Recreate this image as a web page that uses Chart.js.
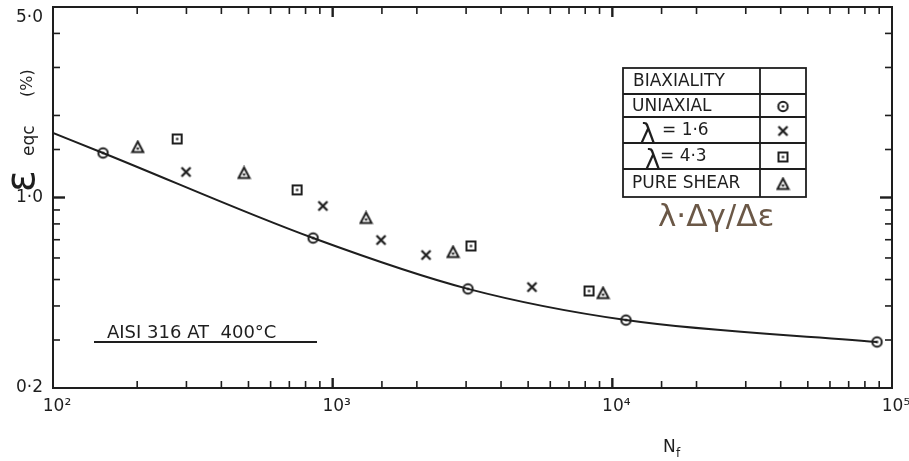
<!DOCTYPE html>
<html>
<head>
<meta charset="utf-8">
<script src="https://cdn.jsdelivr.net/npm/chart.js@4.4.0/dist/chart.umd.min.js"></script>
<style>
  html, body { margin: 0; padding: 0; background: #fff; }
  #wrap { width: 909px; height: 461px; }
</style>
</head>
<body>
<div id="wrap"><canvas id="myChart" width="909" height="461"></canvas></div>
<script>
// fitted uniaxial curve (N_f, strain in %)
const curveN = [100, 151, 851, 3047, 11190, 88400];
const curveE = [1.725, 1.457, 0.710, 0.462, 0.355, 0.295];

// test points per biaxiality
const uniaxialN = [151, 851, 3047, 11190, 88400];
const uniaxialE = [1.457, 0.710, 0.462, 0.355, 0.295];

const lam16N = [299, 923, 1489, 2157, 5160];
const lam16E = [1.241, 0.931, 0.698, 0.615, 0.469];

const lam43N = [278, 746, 3123, 8253];
const lam43E = [1.640, 1.066, 0.664, 0.454];

const shearN = [201, 482, 1316, 2694, 9262];
const shearE = [1.532, 1.230, 0.841, 0.631, 0.446];

const xTickLabels = { 100: '10²', 1000: '10³', 10000: '10⁴', 100000: '10⁵' };
const yTickLabels = [[0.2, '0·2'], [1, '1·0'], [5, '5·0']];

const tableHead = 'BIAXIALITY';
const tableRows = [['UNIAXIAL', 'circle'], ['λ|= 1·6', 'cross'], ['λ|= 4·3', 'square'], ['PURE SHEAR', 'triangle']];

const INK = '#1e1e1e';
const FONT = 'DejaVu Sans';
Chart.defaults.font.family = FONT;
Chart.defaults.color = INK;

// marker glyphs: hollow shapes with a centre dot, like the plotted symbols
function makeSymbol(kind) {
  const c = document.createElement('canvas');
  c.width = 15; c.height = 15;
  const g = c.getContext('2d');
  g.strokeStyle = INK; g.fillStyle = INK; g.lineWidth = 2;
  const m = 7.5;
  if (kind === 'circle') { g.beginPath(); g.arc(m, m, 4.7, 0, Math.PI * 2); g.stroke(); }
  if (kind === 'square') g.strokeRect(3, 3, 9, 9);
  if (kind === 'triangle') {
    g.beginPath(); g.moveTo(m, 2); g.lineTo(13, 12.5); g.lineTo(2, 12.5); g.closePath(); g.stroke();
  }
  if (kind === 'cross') {
    g.lineWidth = 2.3;
    g.beginPath(); g.moveTo(3, 3); g.lineTo(12, 12); g.moveTo(12, 3); g.lineTo(3, 12); g.stroke();
  } else {
    g.beginPath(); g.arc(m, kind === 'triangle' ? 9 : m, 1.3, 0, Math.PI * 2); g.fill();
  }
  return c;
}
const sym = {
  circle: makeSymbol('circle'), cross: makeSymbol('cross'),
  square: makeSymbol('square'), triangle: makeSymbol('triangle')
};

const pts = (xs, ys) => xs.map((x, i) => ({ x: x, y: ys[i] }));
const marks = (data, style) => ({ data: data, pointStyle: style, pointRadius: 6, showLine: false });

const isPow10 = v => Math.abs(Math.log10(v) - Math.round(Math.log10(v))) < 1e-6;
const near = (a, b) => Math.abs(a - b) < 1e-6 * Math.max(1, b);

const decor = {
  id: 'decor',
  afterDraw(chart) {
    const { ctx, chartArea: a, scales: { x, y } } = chart;
    ctx.save();
    ctx.strokeStyle = INK;
    ctx.fillStyle = INK;

    const seg = (x1, y1, x2, y2) => { ctx.beginPath(); ctx.moveTo(x1, y1); ctx.lineTo(x2, y2); ctx.stroke(); };

    // frame
    ctx.lineWidth = 2;
    ctx.strokeRect(a.left, a.top, a.right - a.left, a.bottom - a.top);

    // inward ticks on all four sides
    x.ticks.forEach(t => {
      if (near(t.value, x.min) || near(t.value, x.max)) return;
      const px = x.getPixelForValue(t.value);
      const major = isPow10(t.value);
      const len = major ? 10 : 7;
      ctx.lineWidth = major ? 2.4 : 1.6;
      seg(px, a.bottom, px, a.bottom - len);
      seg(px, a.top, px, a.top + len);
    });
    y.ticks.forEach(t => {
      if (near(t.value, y.min) || near(t.value, y.max)) return;
      const py = y.getPixelForValue(t.value);
      const major = isPow10(t.value);
      const len = major ? 12 : 7;
      ctx.lineWidth = major ? 2.4 : 1.6;
      seg(a.left, py, a.left + len, py);
      seg(a.right, py, a.right - len, py);
    });

    // y axis title, rotated
    ctx.save();
    ctx.translate(34, 192);
    ctx.rotate(-Math.PI / 2);
    ctx.textAlign = 'left';
    ctx.textBaseline = 'alphabetic';
    ctx.font = '40px ' + FONT;
    ctx.fillText('ε', 0, 0);
    ctx.font = '17px ' + FONT;
    ctx.fillText('eqc', 36, 0);
    ctx.font = '16px ' + FONT;
    ctx.fillText('(%)', 95, -2);
    ctx.restore();

    // x axis title N_f
    ctx.textAlign = 'left';
    ctx.textBaseline = 'alphabetic';
    ctx.font = '17px ' + FONT;
    ctx.fillText('N', 663, 452);
    ctx.font = '12px ' + FONT;
    ctx.fillText('f', 676, 457);

    // material note
    ctx.font = '18px ' + FONT;
    ctx.fillText('AISI 316 AT  400°C', 107, 338);
    ctx.lineWidth = 2;
    seg(94, 342, 317, 342);

    // biaxiality table
    const L = 623, R = 806, D = 760;
    const rowY = [68, 94, 117, 143, 169, 197];
    ctx.lineWidth = 1.8;
    ctx.strokeRect(L, rowY[0], R - L, rowY[5] - rowY[0]);
    seg(D, rowY[0], D, rowY[5]);
    for (let i = 1; i < 5; i++) seg(L, rowY[i], R, rowY[i]);

    ctx.font = '17px ' + FONT;
    ctx.textBaseline = 'middle';
    ctx.fillText(tableHead, 633, (rowY[0] + rowY[1]) / 2 + 1);
    tableRows.forEach((row, i) => {
      const cy = (rowY[i + 1] + rowY[i + 2]) / 2 + 1;
      const parts = row[0].split('|');
      if (parts.length > 1) {
        ctx.font = '26px ' + FONT;
        ctx.textBaseline = 'alphabetic';
        ctx.fillText(parts[0], i === 1 ? 640 : 645, cy + 11);
        ctx.font = '17px ' + FONT;
        ctx.textBaseline = 'middle';
        ctx.fillText(parts[1], i === 1 ? 662 : 660, cy);
      } else {
        ctx.font = '17px ' + FONT;
        ctx.fillText(parts[0], 632, cy);
      }
      const s = sym[row[1]];
      ctx.drawImage(s, 783 - s.width / 2, cy - s.height / 2);
    });

    // biaxiality definition
    ctx.fillStyle = '#6b5847';
    ctx.font = '31px ' + FONT;
    ctx.textBaseline = 'alphabetic';
    ctx.fillText('λ·Δγ/Δε', 658, 226);
    ctx.restore();
  }
};

new Chart(document.getElementById('myChart'), {
  type: 'scatter',
  data: {
    datasets: [
      {
        data: pts(curveN, curveE),
        showLine: true,
        borderColor: INK,
        borderWidth: 2,
        pointRadius: 0,
        cubicInterpolationMode: 'monotone',
        fill: false
      },
      marks(pts(uniaxialN, uniaxialE), sym.circle),
      marks(pts(lam16N, lam16E), sym.cross),
      marks(pts(lam43N, lam43E), sym.square),
      marks(pts(shearN, shearE), sym.triangle)
    ]
  },
  options: {
    responsive: false,
    animation: false,
    layout: { padding: { top: 7, right: 17, left: 0, bottom: 0 } },
    plugins: { legend: { display: false }, tooltip: { enabled: false } },
    scales: {
      x: {
        type: 'logarithmic',
        position: 'bottom',
        min: 100,
        max: 100000,
        grid: { display: false, drawTicks: false },
        border: { display: false },
        ticks: {
          autoSkip: false,
          maxRotation: 0,
          padding: 8,
          labelOffset: 4,
          color: INK,
          font: { size: 17 },
          callback: v => xTickLabels[Math.round(v)] || ''
        },
        afterFit: s => { s.height = 73; s.paddingLeft = 0; s.paddingRight = 0; }
      },
      y: {
        type: 'logarithmic',
        min: 0.2,
        max: 5,
        grid: { display: false, drawTicks: false },
        border: { display: false },
        ticks: {
          autoSkip: false,
          padding: 10,
          color: INK,
          font: { size: 17 },
          callback: v => {
            const hit = yTickLabels.find(p => near(v, p[0]));
            if (!hit) return '';
            return hit[0] === 5 ? ['', hit[1]] : hit[1];
          }
        },
        afterFit: s => { s.width = 53; s.paddingTop = 0; s.paddingBottom = 0; }
      }
    }
  },
  plugins: [decor]
});
</script>
</body>
</html>
